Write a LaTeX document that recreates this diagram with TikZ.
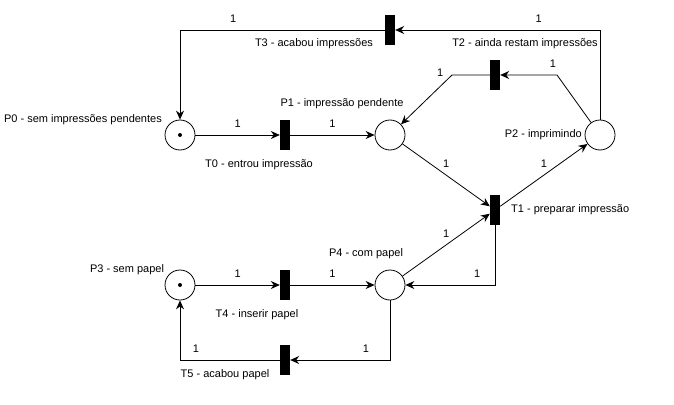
\documentclass[tikz,border=0pt]{standalone}
\usepackage{fontspec}
\setmainfont{Liberation Sans}
\usetikzlibrary{arrows.meta}

\tikzset{
  place/.style={shape=circle,draw,thick,minimum size=30pt,inner sep=0pt},
  marked/.style={path picture={\fill (path picture bounding box.center) circle (2pt);}},
  trans/.style={shape=rectangle,fill,minimum width=10pt,minimum height=30pt,inner sep=0pt},
  arcline/.style={->,thick,>={Stealth[length=9pt,width=8pt,inset=3pt]}},
  weight/.style={above=4pt},
  caption/.style={inner sep=0pt}
}

\begin{document}
\begin{tikzpicture}[x=1pt,y=-1pt,font=\fontsize{11}{13}\selectfont]
\useasboundingbox (0,0) rectangle (674,404);
\path node (p0) at (180,135) [place,marked] {}
      node (p1) at (390,135) [place] {}
      node (p2) at (600,135) [place] {}
      node (p3) at (180,285) [place,marked] {}
      node (p4) at (390,285) [place] {}
      node (t0) at (285,135) [trans] {}
      node (t1) at (495,210) [trans] {}
      node (t2) at (495,75) [trans] {}
      node (t3) at (390,30) [trans] {}
      node (t4) at (285,285) [trans] {}
      node (t5) at (285,360) [trans] {}
      coordinate (c1) at (452,75)
      coordinate (c2) at (557,75);
% nomes
\path node (p0txt) at (162,122) [caption,anchor=base east] {P0 - sem impressões pendentes}
      node (p1txt) at (342,106) [caption,anchor=base] {P1 - impressão pendente}
      node (p2txt) at (582,137) [caption,anchor=base east] {P2 - imprimindo}
      node (p3txt) at (127,272) [caption,anchor=base] {P3 - sem papel}
      node (p4txt) at (366,256) [caption,anchor=base] {P4 - com papel}
      node (t0txt) at (259,167) [caption,anchor=base] {T0 - entrou impressão}
      node (t1txt) at (511,212) [caption,anchor=base west] {T1 - preparar impressão}
      node (t2txt) at (525,47) [caption,anchor=base] {T2 - ainda restam impressões}
      node (t3txt) at (314,47) [caption,anchor=base] {T3 - acabou impressões}
      node (t4txt) at (257,317) [caption,anchor=base] {T4 - inserir papel}
      node (t5txt) at (225,377) [caption,anchor=base] {T5 - acabou papel};
% arcos
\draw [arcline] (p0) -- node[weight] {1} (t0);
\draw [arcline] (t0) -- node[weight] {1} (p1);
\draw [arcline] (p1) -- node[weight] {1} (t1);
\draw [arcline] (t1) -- node[weight] {1} (p2);
\draw [arcline] (p2) -- (c2) -- node[weight,pos=0.07] {1} (t2);
\draw [arcline] (t2) -- (c1) -- node[pos=0.1,above left] {1} (p1);
\draw [arcline] (p2) |- node[weight,pos=0.65] {1} (t3);
\draw [arcline] (t3) -| node[weight,pos=0.37] {1} (p0);
\draw [arcline] (p3) -- node[weight] {1} (t4);
\draw [arcline] (t4) -- node[weight] {1} (p4);
\draw [arcline] (p4) -- node[weight] {1} (t1);
\draw [arcline] (t1) |- node[weight,pos=0.6] {1} (p4);
\draw [arcline] (p4) |- node[weight,pos=0.62] {1} (t5);
\draw [arcline] (t5) -| node[weight,pos=0.42] {1} (p3);
\end{tikzpicture}
\end{document}
